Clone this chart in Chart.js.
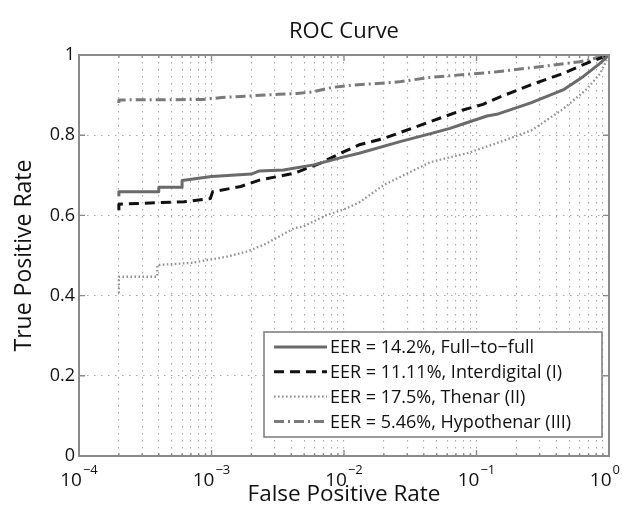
<!DOCTYPE html>
<html>
<head>
<meta charset="utf-8">
<script src="https://cdn.jsdelivr.net/npm/chart.js@4.4.1/dist/chart.umd.min.js"></script>
<style>
  html, body { margin: 0; padding: 0; background: #ffffff; }
  #wrap { width: 622px; height: 514px; }
</style>
</head>
<body>
<div id="wrap"><canvas id="c" width="622" height="514"></canvas></div>
<script>
// ---------------- DATA ----------------
const seriesLabels = [
  'EER = 14.2%, Full\u2212to\u2212full',
  'EER = 11.11%, Interdigital (I)',
  'EER = 17.5%, Thenar (II)',
  'EER = 5.46%, Hypothenar (III)'
];

const fullFPR  = [2e-4, 2e-4, 4e-4, 4e-4, 6e-4, 6e-4, 1e-3, 2e-3, 2.3e-3, 3.5e-3, 5.9e-3, 0.01, 0.013, 0.0265, 0.045, 0.063, 0.079, 0.12, 0.142, 0.254, 0.45, 0.637, 0.855, 1];
const fullTPR  = [0.648, 0.659, 0.659, 0.670, 0.670, 0.687, 0.697, 0.703, 0.711, 0.713, 0.726, 0.746, 0.755, 0.784, 0.804, 0.817, 0.828, 0.848, 0.852, 0.880, 0.913, 0.946, 0.979, 1];

const interFPR = [2e-4, 2e-4, 6.2e-4, 9.8e-4, 1.02e-3, 1.66e-3, 2.3e-3, 4.2e-3, 6.6e-3, 0.01, 0.013, 0.02, 0.045, 0.079, 0.112, 0.142, 0.254, 0.45, 0.72, 1];
const interTPR = [0.613, 0.628, 0.634, 0.642, 0.659, 0.672, 0.688, 0.705, 0.730, 0.759, 0.776, 0.792, 0.834, 0.863, 0.877, 0.892, 0.925, 0.954, 0.983, 1];

const thenarFPR = [2e-4, 2e-4, 3.9e-4, 3.9e-4, 7.2e-4, 1.3e-3, 1.86e-3, 2.6e-3, 4.2e-3, 4.9e-3, 7.4e-3, 0.01, 0.013, 0.02, 0.045, 0.085, 0.15, 0.26, 0.45, 0.68, 0.855, 1];
const thenarTPR = [0.406, 0.447, 0.447, 0.476, 0.482, 0.497, 0.510, 0.530, 0.568, 0.572, 0.601, 0.615, 0.632, 0.676, 0.733, 0.755, 0.783, 0.812, 0.865, 0.915, 0.953, 1];

const hypoFPR = [2e-4, 2e-4, 8.5e-4, 1.2e-3, 3.2e-3, 4.4e-3, 5.8e-3, 8.1e-3, 0.0115, 0.018, 0.026, 0.044, 0.142, 0.34, 0.6, 1];
const hypoTPR = [0.880, 0.888, 0.889, 0.894, 0.902, 0.904, 0.908, 0.919, 0.925, 0.929, 0.933, 0.944, 0.958, 0.973, 0.983, 1];

const xMajorTicks    = [1e-4, 1e-3, 1e-2, 1e-1, 1];
const xTickBase      = '10';
const xTickExponents = ['\u22124', '\u22123', '\u22122', '\u22121', '0'];
const yTickValues    = [0, 0.2, 0.4, 0.6, 0.8, 1];
const yTickLabels    = ['0', '0.2', '0.4', '0.6', '0.8', '1'];

const chartTitle = 'ROC Curve';
const xTitle = 'False Positive Rate';
const yTitle = 'True Positive Rate';

// ---------------- BUILD ----------------
const FONT = "'Open Sans', 'DejaVu Sans', sans-serif";
const TEXT = '#111111';
const toPts = (xs, ys) => xs.map((x, i) => ({ x: x, y: ys[i] }));

// grid values: every integer multiple within each decade
const xGridValues = [];
xMajorTicks.forEach((m, i) => {
  if (i < xMajorTicks.length - 1) {
    for (let k = 1; k <= 9; k++) xGridValues.push(+(m * k).toPrecision(3));
  } else {
    xGridValues.push(m);
  }
});

const datasets = [
  { label: seriesLabels[0], data: toPts(fullFPR, fullTPR),   borderColor: '#6a6a6a', borderWidth: 3,   borderDash: [] },
  { label: seriesLabels[1], data: toPts(interFPR, interTPR), borderColor: '#111111', borderWidth: 3,   borderDash: [10, 6] },
  { label: seriesLabels[2], data: toPts(thenarFPR, thenarTPR), borderColor: '#929292', borderWidth: 2.3, borderDash: [1.6, 2.4] },
  { label: seriesLabels[3], data: toPts(hypoFPR, hypoTPR),   borderColor: '#7a7a7a', borderWidth: 3,   borderDash: [10, 4, 2, 4] }
].map(d => Object.assign(d, { pointRadius: 0, fill: false, tension: 0, borderCapStyle: 'butt', borderJoinStyle: 'round' }));

const isEdgeX = v => Math.abs(v - 1e-4) < 1e-9 || Math.abs(v - 1) < 1e-9;
const isEdgeY = v => v < 1e-9 || Math.abs(v - 1) < 1e-9;

// axes box, inward tick marks, superscript x labels, legend
const boxPlugin = {
  id: 'boxPlugin',
  afterDatasetsDraw(chart) {
    const { ctx, chartArea: a, scales } = chart;
    ctx.save();
    ctx.strokeStyle = '#8a8a8a';
    ctx.lineWidth = 1.4;
    ctx.beginPath();
    xGridValues.forEach(v => {
      if (isEdgeX(v)) return;
      const px = scales.x.getPixelForValue(v);
      const major = xMajorTicks.some(m => Math.abs(m - v) < 1e-12);
      const len = major ? 6 : 3;
      ctx.moveTo(px, a.bottom); ctx.lineTo(px, a.bottom - len);
      ctx.moveTo(px, a.top); ctx.lineTo(px, a.top + len);
    });
    yTickValues.forEach(v => {
      if (isEdgeY(v)) return;
      const py = scales.y.getPixelForValue(v);
      ctx.moveTo(a.left, py); ctx.lineTo(a.left + 6, py);
      ctx.moveTo(a.right, py); ctx.lineTo(a.right - 6, py);
    });
    ctx.stroke();
    ctx.lineWidth = 2;
    ctx.strokeRect(a.left, a.top, a.right - a.left, a.bottom - a.top);
    ctx.restore();
  },
  afterDraw(chart) {
    const { ctx, scales } = chart;
    const a = chart.chartArea;
    ctx.save();
    ctx.fillStyle = TEXT;
    ctx.textBaseline = 'alphabetic';
    xMajorTicks.forEach((v, i) => {
      const px = scales.x.getPixelForValue(v);
      ctx.font = '19px ' + FONT;
      const wb = ctx.measureText(xTickBase).width;
      ctx.font = '13px ' + FONT;
      const we = ctx.measureText(xTickExponents[i]).width;
      const total = wb + we + 1;
      const x0 = Math.min(px - total / 2, chart.width - 2 - total);
      const base = a.bottom + 30;
      ctx.font = '19px ' + FONT;
      ctx.textAlign = 'left';
      ctx.fillText(xTickBase, x0, base);
      ctx.font = '13px ' + FONT;
      ctx.fillText(xTickExponents[i], x0 + wb + 1, base - 12);
    });
    ctx.restore();

    const L = { left: a.left + 185, top: a.top + 277, width: 338, height: 105 };
    ctx.save();
    ctx.fillStyle = '#ffffff';
    ctx.fillRect(L.left, L.top, L.width, L.height);
    ctx.strokeStyle = '#7a7a7a';
    ctx.lineWidth = 1.5;
    ctx.strokeRect(L.left, L.top, L.width, L.height);
    chart.data.datasets.forEach((d, i) => {
      const cy = L.top + 15 + i * 24.8;
      ctx.save();
      ctx.strokeStyle = d.borderColor;
      ctx.lineWidth = d.borderWidth;
      ctx.setLineDash(d.borderDash || []);
      ctx.lineCap = 'butt';
      ctx.beginPath();
      ctx.moveTo(L.left + 10, cy);
      ctx.lineTo(L.left + 63, cy);
      ctx.stroke();
      ctx.restore();
      ctx.fillStyle = TEXT;
      ctx.font = '18px ' + FONT;
      ctx.textAlign = 'left';
      ctx.textBaseline = 'middle';
      ctx.fillText(d.label, L.left + 66, cy + 1);
    });
    ctx.restore();
  }
};

new Chart(document.getElementById('c'), {
  type: 'line',
  data: { datasets: datasets },
  plugins: [boxPlugin],
  options: {
    responsive: false,
    animation: false,
    events: [],
    layout: { padding: { left: 0, right: 13, top: 0, bottom: 0 } },
    plugins: {
      legend: { display: false },
      tooltip: { enabled: false },
      title: {
        display: true, text: chartTitle, fullSize: false,
        color: TEXT, font: { family: FONT, size: 22, weight: 'normal', lineHeight: 1.2 },
        padding: { top: 19, bottom: 9.6 }
      }
    },
    scales: {
      x: {
        type: 'logarithmic', min: 1e-4, max: 1,
        afterBuildTicks: s => { s.ticks = xGridValues.map(v => ({ value: v })); },
        afterFit: s => { s.height = 58; },
        ticks: { display: false },
        grid: {
          drawTicks: false, lineWidth: 1.1,
          color: c => (c.tick && isEdgeX(c.tick.value)) ? 'rgba(0,0,0,0)' : '#a8a8a8'
        },
        border: { display: true, color: '#8a8a8a', width: 2, dash: [1.5, 5.5] },
        title: {
          display: true, text: xTitle, color: TEXT,
          font: { family: FONT, size: 22.5, weight: 'normal', lineHeight: 1.2 },
          padding: { top: 0, bottom: 5.5 }
        }
      },
      y: {
        type: 'linear', min: 0, max: 1,
        afterBuildTicks: s => { s.ticks = yTickValues.map(v => ({ value: v })); },
        afterFit: s => { s.width = 79; },
        ticks: {
          color: TEXT, padding: 4,
          font: { family: FONT, size: 18 },
          callback: (v, i) => yTickLabels[i]
        },
        grid: {
          drawTicks: false, lineWidth: 1.1,
          color: c => (c.tick && isEdgeY(c.tick.value)) ? 'rgba(0,0,0,0)' : '#a8a8a8'
        },
        border: { display: true, color: '#8a8a8a', width: 2, dash: [1.5, 5.5] },
        title: {
          display: true, text: yTitle, color: TEXT,
          font: { family: FONT, size: 23, weight: 'normal', lineHeight: 1.2 },
          padding: { top: 11, bottom: 0 }
        }
      }
    }
  }
});
</script>
</body>
</html>
